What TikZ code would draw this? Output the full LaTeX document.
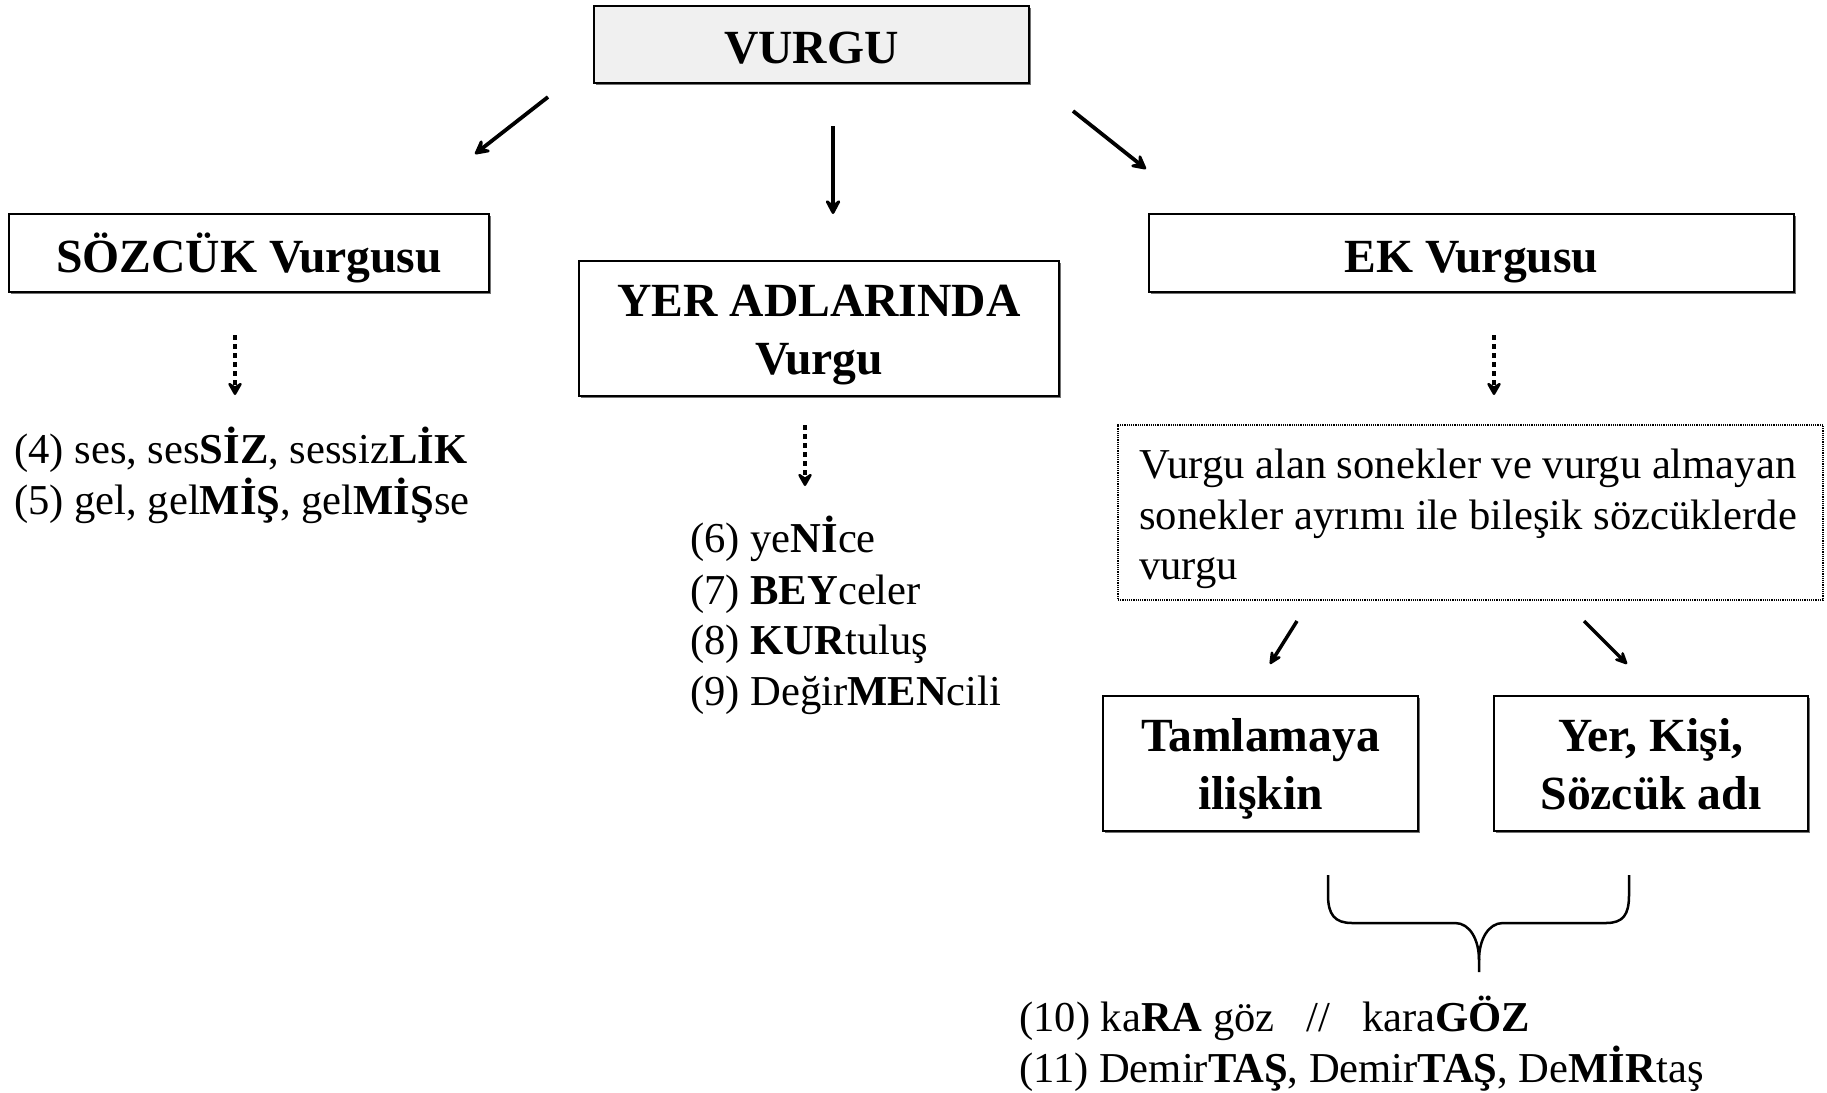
\documentclass[tikz,border=0pt]{standalone}
\usepackage{fontspec}
\setmainfont{Liberation Serif}
\usetikzlibrary{arrows.meta,shadows}
\newcommand\oneline[1]{\raisebox{-19pt}[0pt][0pt]{#1}}
\newcommand\twoline[2]{\raisebox{12pt}[0pt][0pt]{\begin{tabular}[t]{@{}c@{}}#1\\#2\end{tabular}}}
\begin{document}
\begin{tikzpicture}[x=1pt,y=-1pt,
  titlebox/.style={draw,line width=1.6pt,font=\fontsize{47.6}{58}\selectfont\bfseries,inner sep=0pt,
     drop shadow={shadow xshift=1.5pt,shadow yshift=-2pt,fill=black!55,opacity=1}},
  bodytext/.style={anchor=base west,inner sep=0pt,font=\fontsize{42.6}{50}\selectfont},
  solidarrow/.style={line width=3.8pt,-{Stealth[length=19pt,width=20pt,inset=8pt,round]}},
  dotarrow/.style={line width=4.5pt,dash pattern=on 4.5pt off 4.5pt,-{Stealth[length=16pt,width=18pt,inset=6pt,round]}},
  smallarrow/.style={line width=3.5pt,-{Stealth[length=17pt,width=16pt,inset=7pt,round]}}
]
\useasboundingbox[fill=white] (0,0) rectangle (1827,1092);

% boxes
\node[titlebox,fill=black!6,minimum width=435pt,minimum height=77pt] (vurgu) at (811.5,44.5) {\oneline{VURGU}};
\node[titlebox,fill=white,minimum width=480pt,minimum height=78pt] (sozcuk) at (249,253) {\oneline{SÖZCÜK Vurgusu}};
\node[titlebox,fill=white,minimum width=480pt,minimum height=135pt] (yer) at (819,328.5) {\twoline{YER ADLARINDA}{Vurgu}};
\node[titlebox,fill=white,minimum width=645pt,minimum height=78pt] (ek) at (1471.5,253) {\oneline{EK Vurgusu}};
\node[draw,line width=1.2pt,densely dotted,minimum width=705pt,minimum height=175pt,inner sep=0pt] (ekbox) at (1470.5,512.5) {};
\node[titlebox,fill=white,minimum width=315pt,minimum height=135pt] (tam) at (1260.5,763.5) {\twoline{Tamlamaya}{ilişkin}};
\node[titlebox,fill=white,minimum width=314pt,minimum height=135pt] (kisi) at (1651,763.5) {\twoline{Yer, Kişi,}{Sözcük adı}};

% arrows from VURGU
\coordinate (a1s) at (548,97);  \coordinate (a1e) at (475,154);
\coordinate (a2s) at (833,126); \coordinate (a2e) at (833,214);
\coordinate (a3s) at (1073,111); \coordinate (a3e) at (1146,169);
\draw[solidarrow] (a1s) -- (a1e);
\draw[solidarrow] (a2s) -- (a2e);
\draw[solidarrow] (a3s) -- (a3e);

% dotted arrows
\coordinate (d1s) at (235,335); \coordinate (d1e) at (235,395);
\coordinate (d2s) at (805,425); \coordinate (d2e) at (805,486);
\coordinate (d3s) at (1494,335); \coordinate (d3e) at (1494,395);
\draw[dotarrow] (d1s) -- (d1e);
\draw[dotarrow] (d2s) -- (d2e);
\draw[dotarrow] (d3s) -- (d3e);

% small arrows
\coordinate (s1s) at (1297,621); \coordinate (s1e) at (1270,664);
\coordinate (s2s) at (1584,621); \coordinate (s2e) at (1627,664);
\draw[smallarrow] (s1s) -- (s1e);
\draw[smallarrow] (s2s) -- (s2e);

% texts
\node[bodytext] (ex4) at (14,463) {(4) ses, ses\textbf{SİZ}, sessiz\textbf{LİK}};
\node[bodytext] (ex5) at (14,514) {(5) gel, gel\textbf{MİŞ}, gel\textbf{MİŞ}se};
\node[bodytext] (ex6) at (690,552) {(6) ye\textbf{Nİ}ce};
\node[bodytext] (ex7) at (690,604) {(7) \textbf{BEY}celer};
\node[bodytext] (ex8) at (690,654) {(8) \textbf{KUR}tuluş};
\node[bodytext] (ex9) at (690,705) {(9) Değir\textbf{MEN}cili};
\node[bodytext] (ekt1) at (1139,478) {Vurgu alan sonekler ve vurgu almayan};
\node[bodytext] (ekt2) at (1139,529) {sonekler ayrımı ile bileşik sözcüklerde};
\node[bodytext] (ekt3) at (1139,579) {vurgu};
\node[bodytext] (ex10) at (1019,1031) {(10) ka\textbf{RA} göz \ \ // \ \ kara\textbf{GÖZ}};
\node[bodytext] (ex11) at (1019,1082) {(11) Demir\textbf{TAŞ}, Demir\textbf{TAŞ}, De\textbf{MİR}taş};

% brace
\draw[line width=2.5pt] (1328,875) -- (1328,895) .. controls (1328,915) and (1335,923) .. (1352,923) -- (1455,923) .. controls (1470,923) and (1479,940) .. (1479,960) -- (1479,972);
\draw[line width=2.5pt] (1479,960) .. controls (1479,940) and (1488,923) .. (1503,923) -- (1606,923) .. controls (1623,923) and (1629,915) .. (1629,895) -- (1629,875);
\end{tikzpicture}
\end{document}
